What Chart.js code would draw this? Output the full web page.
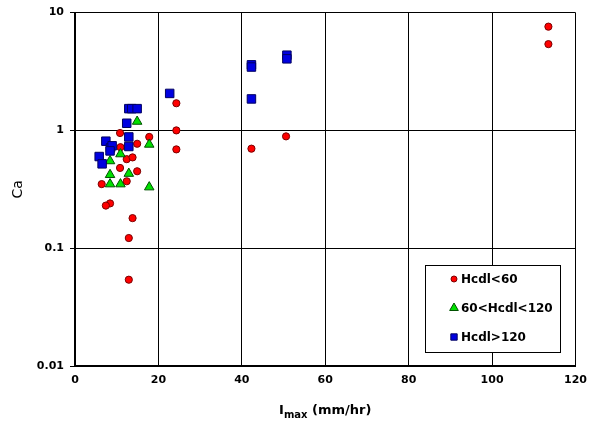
<!DOCTYPE html>
<html>
<head>
<meta charset="utf-8">
<script src="https://cdn.jsdelivr.net/npm/chart.js@4/dist/chart.umd.min.js"></script>
<style>
  html, body { margin: 0; padding: 0; background: #fff; }
  #wrap { width: 595px; height: 425px; position: relative; }
</style>
</head>
<body>
<div id="wrap"><canvas id="chart" width="595" height="425"></canvas></div>
<script>
  // values
  const seriesNames = ['Hcdl<60', '60<Hcdl<120', 'Hcdl>120'];

  const lowX = [113.5, 113.5, 24.3, 24.3, 24.3, 10.8, 17.8, 14.9, 10.9, 12.4, 13.8, 10.8, 14.9, 12.4, 6.4, 8.4, 7.4, 13.8, 12.9, 12.9, 50.6, 42.3];
  const lowY = [7.6, 5.4, 1.7, 1.0, 0.69, 0.95, 0.88, 0.77, 0.72, 0.57, 0.59, 0.48, 0.45, 0.37, 0.35, 0.24, 0.23, 0.18, 0.122, 0.054, 0.89, 0.70];

  const midX = [14.9, 17.8, 10.9, 8.4, 12.9, 8.4, 8.4, 10.9, 17.8];
  const midY = [1.19, 0.76, 0.63, 0.55, 0.43, 0.42, 0.35, 0.35, 0.33];

  const highX = [22.7, 12.9, 13.6, 14.9, 12.4, 12.9, 7.4, 8.5, 8.9, 8.4, 12.9, 5.8, 6.5, 42.3, 42.3, 42.3, 50.8, 50.8];
  const highY = [2.06, 1.53, 1.53, 1.53, 1.15, 0.88, 0.81, 0.71, 0.74, 0.67, 0.73, 0.60, 0.52, 3.6, 3.45, 1.85, 4.35, 4.05];

  const xTicks = [0, 20, 40, 60, 80, 100, 120];
  const yTicks = [0.01, 0.1, 1, 10];
  const yTickLabels = ['0.01', '0.1', '1', '10'];

  const toPoints = (xs, ys) => xs.map((x, i) => ({ x: x, y: ys[i] }));

  const FONT = '"DejaVu Sans", sans-serif';

  // legend box + x title with subscript
  const extras = {
    id: 'extras',
    afterDraw(chart) {
      const ctx = chart.ctx;
      const area = chart.chartArea;
      ctx.save();

      // x axis title: I_max (mm/hr)
      ctx.fillStyle = '#000';
      ctx.textBaseline = 'alphabetic';
      ctx.font = 'bold 13px ' + FONT;
      const cx = (area.left + area.right) / 2;
      const baseY = 414;
      const wI = ctx.measureText('I').width;
      ctx.font = 'bold 10px ' + FONT;
      const wSub = ctx.measureText('max').width;
      ctx.font = 'bold 13px ' + FONT;
      const wRest = ctx.measureText(' (mm/hr)').width;
      const x0 = cx - (wI + wSub + wRest) / 2;
      ctx.textAlign = 'left';
      ctx.fillText('I', x0, baseY);
      ctx.font = 'bold 10px ' + FONT;
      ctx.fillText('max', x0 + wI, baseY + 4);
      ctx.font = 'bold 13px ' + FONT;
      ctx.fillText(' (mm/hr)', x0 + wI + wSub, baseY);

      // legend
      const lx = 425, ly = 265, lw = 135, lh = 87;
      ctx.fillStyle = '#fff';
      ctx.fillRect(lx, ly, lw, lh);
      ctx.strokeStyle = '#000';
      ctx.lineWidth = 1;
      ctx.strokeRect(lx + 0.5, ly + 0.5, lw, lh);

      const rows = [ly + 14, ly + 43, ly + 72];
      const legendRadius = [3, 5, 4.5];
      chart.data.datasets.forEach((ds, i) => {
        ctx.fillStyle = ds.backgroundColor;
        ctx.strokeStyle = ds.borderColor;
        ctx.lineWidth = 1;
        Chart.helpers.drawPoint(ctx, {
          pointStyle: ds.pointStyle,
          radius: legendRadius[i],
          borderWidth: 1
        }, lx + 29, rows[i]);
        ctx.fillStyle = '#000';
        ctx.font = 'bold 12px ' + FONT;
        ctx.textBaseline = 'middle';
        ctx.textAlign = 'left';
        ctx.fillText(seriesNames[i], lx + 36, rows[i] + 1);
      });
      ctx.restore();
    }
  };

  const ctx = document.getElementById('chart').getContext('2d');
  const chart = new Chart(ctx, {
    type: 'scatter',
    data: {
      datasets: [
        {
          label: seriesNames[0],
          data: toPoints(lowX, lowY),
          pointStyle: 'circle',
          pointRadius: 3.6,
          backgroundColor: '#ff0000',
          borderColor: '#7a0000',
          borderWidth: 1,
          order: 2
        },
        {
          label: seriesNames[1],
          data: toPoints(midX, midY),
          pointStyle: 'triangle',
          pointRadius: 5.5,
          backgroundColor: '#00e000',
          borderColor: '#005000',
          borderWidth: 1,
          order: 1
        },
        {
          label: seriesNames[2],
          data: toPoints(highX, highY),
          pointStyle: 'rect',
          pointRadius: 6,
          backgroundColor: '#0000e0',
          borderColor: '#000060',
          borderWidth: 1,
          order: 0
        }
      ]
    },
    options: {
      responsive: false,
      animation: false,
      layout: { padding: { top: 10, right: 18, left: 10, bottom: 0 } },
      plugins: {
        legend: { display: false },
        tooltip: { enabled: false }
      },
      scales: {
        x: {
          type: 'linear',
          min: 0,
          max: 120,
          afterBuildTicks: s => { s.ticks = xTicks.map(v => ({ value: v })); },
          afterFit: s => { s.height = 59; },
          ticks: { color: '#000', font: { family: FONT, size: 11, weight: 'bold' }, padding: 8 },
          grid: { color: '#000', lineWidth: 1, drawTicks: false },
          border: { color: '#000', width: 2 }
        },
        y: {
          type: 'logarithmic',
          min: 0.01,
          max: 10,
          afterBuildTicks: s => { s.ticks = yTicks.map(v => ({ value: v })); },
          afterFit: s => { s.width = 65; },
          ticks: {
            color: '#000',
            font: { family: FONT, size: 11, weight: 'bold' },
            padding: 6,
            callback: v => yTickLabels[yTicks.indexOf(v)]
          },
          grid: { color: '#000', lineWidth: 1, tickLength: 5 },
          border: { color: '#000', width: 2 },
          title: { display: true, text: 'Ca', color: '#000', font: { family: FONT, size: 14 }, padding: { top: 0, bottom: 2 } }
        }
      }
    },
    plugins: [extras]
  });
</script>
</body>
</html>
